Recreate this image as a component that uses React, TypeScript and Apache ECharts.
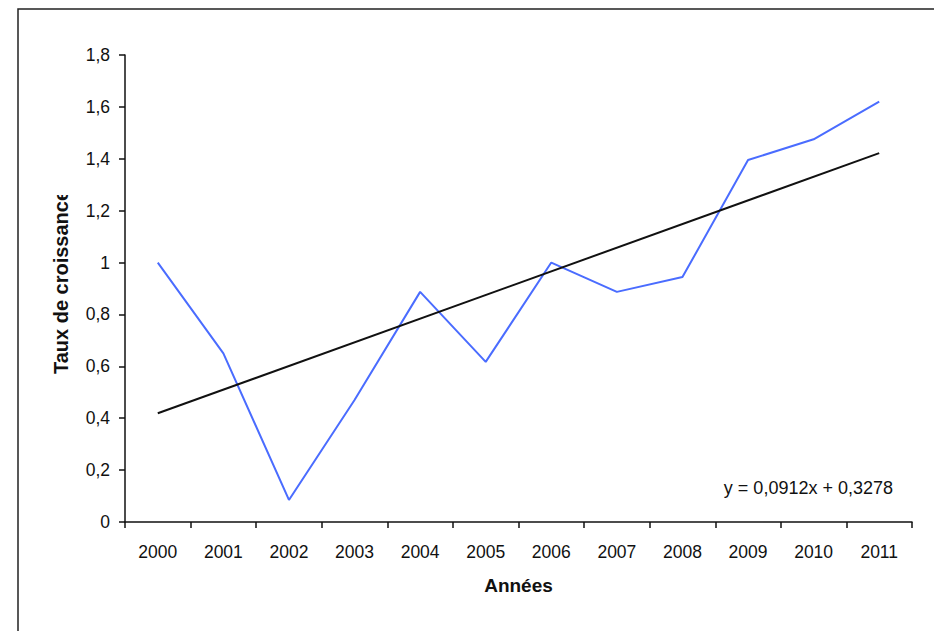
import React, { useEffect, useRef } from "react";
import * as echarts from "echarts";

const years = ["2000", "2001", "2002", "2003", "2004", "2005", "2006", "2007", "2008", "2009", "2010", "2011"];
const growthRate = [1.0, 0.65, 0.085, 0.47, 0.887, 0.617, 1.0, 0.887, 0.944, 1.395, 1.475, 1.62];
const trendValues = [0.419, null, null, null, null, null, null, null, null, null, null, 1.422];
const yTicks = [0, 0.2, 0.4, 0.6, 0.8, 1, 1.2, 1.4, 1.6, 1.8];
const equationLabel = "y = 0,0912x + 0,3278";
const yTitle = "Taux de croissance";
const xTitle = "Années";

const FONT = "'Liberation Sans', Arial, sans-serif";

export default function App() {
  const ref = useRef<HTMLDivElement>(null);
  useEffect(() => {
    if (!ref.current) return;
    const chart = echarts.init(ref.current, null, { renderer: "svg" });
    chart.setOption({
      animation: false,
      backgroundColor: "#ffffff",
      textStyle: { fontFamily: FONT },
      grid: { left: 125, right: 22, top: 55, bottom: 109, containLabel: false },
      xAxis: {
        type: "category",
        data: years,
        boundaryGap: true,
        name: xTitle,
        nameLocation: "middle",
        nameGap: 54,
        nameTextStyle: { fontFamily: FONT, fontSize: 19, fontWeight: "bold", color: "#111" },
        axisLine: { lineStyle: { color: "#111", width: 1.5 } },
        axisTick: { show: true, length: 6, lineStyle: { color: "#111", width: 1.5 } },
        axisLabel: { fontFamily: FONT, fontSize: 17.5, color: "#111", margin: 21 },
        splitLine: { show: false },
      },
      yAxis: {
        type: "value",
        min: yTicks[0],
        max: yTicks[yTicks.length - 1],
        interval: 0.2,
        axisLine: { show: true, lineStyle: { color: "#111", width: 1.5 } },
        axisTick: { show: true, length: 6, lineStyle: { color: "#111", width: 1.5 } },
        axisLabel: {
          fontFamily: FONT,
          fontSize: 17.5,
          color: "#111",
          margin: 15,
          formatter: (v: number) => String(Math.round(v * 10) / 10).replace(".", ","),
        },
        splitLine: { show: false },
      },
      series: [
        {
          type: "line",
          data: growthRate,
          symbol: "none",
          lineStyle: { color: "#4a6cff", width: 2 },
          z: 3,
        },
        {
          type: "line",
          data: trendValues,
          connectNulls: true,
          symbol: "none",
          lineStyle: { color: "#111", width: 2 },
          z: 4,
        },
      ],
      graphic: [
        {
          type: "rect",
          shape: { x: 18, y: 9, width: 1000, height: 700 },
          style: { fill: "none", stroke: "#222", lineWidth: 1.5 },
          silent: true,
        },
        {
          type: "text",
          x: 61,
          y: 282,
          rotation: Math.PI / 2,
          style: {
            text: yTitle,
            font: `bold 20px ${FONT}`,
            fill: "#111",
            textAlign: "center",
            textVerticalAlign: "middle",
          },
        },
        {
          type: "rect",
          shape: { x: 46, y: 150, width: 28, height: 45 },
          style: { fill: "#ffffff" },
          z: 100,
        },
        {
          type: "text",
          x: 893,
          y: 488,
          style: {
            text: equationLabel,
            font: `18px ${FONT}`,
            fill: "#111",
            textAlign: "right",
            textVerticalAlign: "middle",
          },
        },
      ],
    });
    return () => chart.dispose();
  }, []);
  return (
    <div
      ref={ref}
      style={{ position: "fixed", left: 0, top: 0, width: 934, height: 631 }}
    />
  );
}
